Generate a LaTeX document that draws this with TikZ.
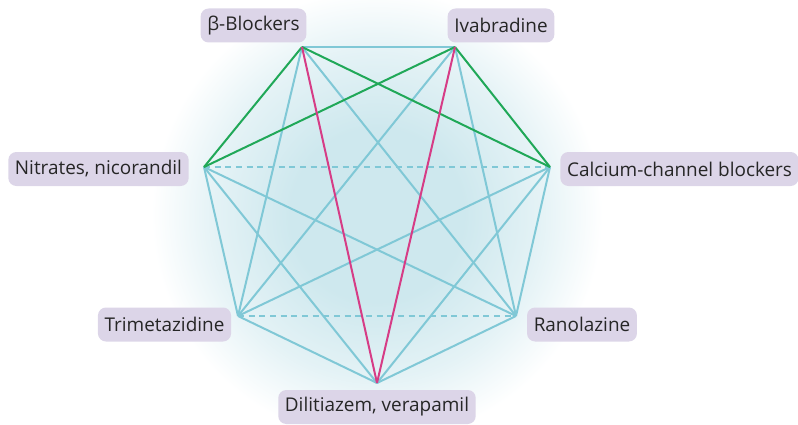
\documentclass[tikz,border=0pt]{standalone}
\usepackage{fontspec}
\setmainfont{Open Sans}
\definecolor{boxlilac}{RGB}{220,213,232}
\definecolor{linkblue}{RGB}{128,200,214}
\definecolor{linkgreen}{RGB}{32,168,88}
\definecolor{linkpink}{RGB}{214,60,134}
\definecolor{glowblue}{RGB}{206,232,238}
\pgfdeclareradialshading{glow}{\pgfpoint{0bp}{0bp}}{color(0bp)=(glowblue); color(9bp)=(glowblue);
  color(17bp)=(glowblue!55!white); color(23.5bp)=(white); color(50bp)=(white)}

\begin{document}
\begin{tikzpicture}[x=0.75pt,y=-0.75pt,
  drug/.style={fill=boxlilac,rounded corners=6pt,minimum height=25.5pt,inner xsep=5pt,
    font=\fontsize{14.2}{16}\selectfont,text=black!85},
  link/.style={draw=linkblue,line width=1.5pt},
  dashlink/.style={link,dash pattern=on 4.5pt off 3.5pt},
  greenlink/.style={draw=linkgreen,line width=1.5pt},
  pinklink/.style={draw=linkpink,line width=1.5pt}]
  \useasboundingbox (0,0) rectangle (798,424);
  \begin{scope}
    \clip (0,0) rectangle (798,424);
    \shade[shading=glow] (377,215) circle (240);
  \end{scope}

  % corners of the heptagon
  \coordinate (bb) at (302,47);
  \coordinate (iv) at (455,47);
  \coordinate (ni) at (204,167);
  \coordinate (ca) at (550,167);
  \coordinate (tr) at (238,316);
  \coordinate (ra) at (516,316);
  \coordinate (di) at (377,383);

  % plain links
  \foreach \a/\b in {bb/iv,bb/tr,bb/ra,iv/tr,iv/ra,ni/tr,ni/ra,ni/di,
                     ca/tr,ca/ra,ca/di,tr/di,ra/di}
    \draw[link] (\a) -- (\b);
  \draw[dashlink] (ni) -- (ca);
  \draw[dashlink] (tr) -- (ra);
  \foreach \a/\b in {bb/ni,bb/ca,iv/ni,iv/ca}
    \draw[greenlink] (\a) -- (\b);
  \draw[pinklink] (bb) -- (di);
  \draw[pinklink] (iv) -- (di);

  % labels
  \node[drug] (bbl) at (253.5,25.5) {β-Blockers};
  \node[drug] (ivl) at (501,25.5) {Ivabradine};
  \node[drug] (nil) at (98.5,169) {Nitrates, nicorandil};
  \node[drug] (cal) at (679.5,169) {Calcium-channel blockers};
  \node[drug] (trl) at (164.5,324.5) {Trimetazidine};
  \node[drug] (ral) at (582,324.5) {Ranolazine};
  \node[drug] (dil) at (377,407) {Dilitiazem, verapamil};
\end{tikzpicture}
\end{document}
